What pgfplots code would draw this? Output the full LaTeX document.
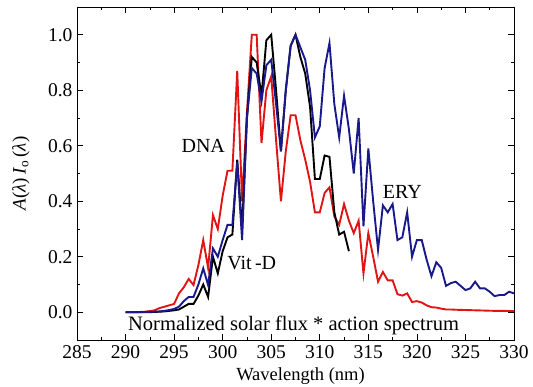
\documentclass[border=0pt]{standalone}
\usepackage{fontspec}
\setmainfont{Liberation Serif}
\usepackage{pgfplots}
\pgfplotsset{compat=1.18}
\definecolor{dnared}{RGB}{225,20,20}
\definecolor{erybl}{RGB}{25,25,140}
\begin{document}
\begin{tikzpicture}
\begin{axis}[
  scale only axis, width=437pt, height=333pt,
  xmin=285, xmax=330, ymin=-0.1, ymax=1.1,
  xtick={285,290,...,330}, minor x tick num=1,
  ytick={0,0.2,...,1.0}, minor y tick num=1,
  tick align=inside, major tick length=6pt, minor tick length=3pt,
  every tick/.style={black, line width=0.6pt},
  axis line style={line width=0.9pt},
  /pgf/number format/assume math mode=true,
  yticklabel style={/pgf/number format/fixed, /pgf/number format/precision=1, /pgf/number format/fixed zerofill, xshift=-1pt},
  xticklabel style={/pgf/number format/1000 sep={}, yshift=-2pt},
  ticklabel style={font=\fontsize{19.5}{20}\selectfont},
  xlabel={Wavelength (nm)},
  xlabel style={font=\fontsize{18.5}{18.5}\selectfont, at={(axis description cs:0.5,0)}, anchor=center, yshift=-36pt, xshift=5pt},
  clip=true,
]
\addplot[dnared, line width=1.9pt] coordinates {
(290,0) (290.5,0) (291,0) (291.5,0.001) (292,0.002) (292.5,0.004) (293,0.007) (293.5,0.015) (294,0.02) (294.5,0.025) (295,0.03) (295.5,0.068) (296,0.09) (296.5,0.12) (297,0.098) (297.5,0.17) (298,0.26) (298.5,0.16) (299,0.35) (299.5,0.30) (300,0.42) (300.5,0.51) (301,0.51) (301.5,0.87) (302,0.40) (302.5,0.72) (303,1.0) (303.5,1.0) (304,0.61) (304.5,0.80) (305,0.85) (305.5,0.62) (306,0.40) (306.5,0.58) (307,0.71) (307.5,0.71) (308,0.62) (308.5,0.55) (309,0.47) (309.5,0.36) (310,0.36) (310.5,0.43) (311,0.45) (311.5,0.345) (312,0.315) (312.5,0.39) (313,0.33) (313.5,0.285) (314,0.33) (314.5,0.14) (315,0.285) (315.5,0.20) (316,0.11) (316.5,0.145) (317,0.115) (317.5,0.115) (318,0.065) (318.5,0.06) (319,0.068) (319.5,0.037) (320,0.04) (320.5,0.035) (321,0.025) (321.5,0.018) (322,0.017) (322.5,0.013) (323,0.01) (323.5,0.01) (324,0.009) (325,0.008) (326,0.007) (327,0.006) (328,0.005) (329,0.005) (330,0.004)
};
\addplot[black, line width=1.9pt] coordinates {
(290,0) (291,0) (292,0) (293,0.001) (294,0.003) (294.5,0.005) (295,0.007) (295.5,0.01) (296,0.02) (296.5,0.03) (297,0.03) (297.5,0.06) (298,0.10) (298.5,0.055) (299,0.20) (299.5,0.14) (300,0.22) (300.5,0.27) (301,0.28) (301.5,0.55) (302,0.30) (302.5,0.70) (303,0.92) (303.5,0.90) (304,0.78) (304.5,0.98) (305,1.0) (305.5,0.80) (306,0.58) (306.5,0.80) (307,0.96) (307.5,1.0) (308,0.92) (308.5,0.86) (309,0.74) (309.5,0.48) (310,0.48) (310.5,0.565) (311,0.56) (311.5,0.36) (312,0.28) (312.5,0.29) (313,0.22)
};
\addplot[erybl, line width=1.9pt] coordinates {
(290,0) (291,0) (292,0.001) (293,0.002) (293.5,0.003) (294,0.005) (294.5,0.008) (295,0.012) (295.5,0.02) (296,0.04) (296.5,0.055) (297,0.055) (297.5,0.10) (298,0.158) (298.5,0.098) (299,0.23) (299.5,0.20) (300,0.26) (300.5,0.315) (301,0.315) (301.5,0.54) (302,0.26) (302.5,0.70) (303,0.88) (303.5,0.86) (304,0.76) (304.5,0.89) (305,0.91) (305.5,0.75) (306,0.58) (306.5,0.80) (307,0.96) (307.5,1.0) (308,0.955) (308.5,0.91) (309,0.80) (309.5,0.63) (310,0.67) (310.5,0.88) (311,0.97) (311.5,0.75) (312,0.63) (312.5,0.78) (313,0.66) (313.5,0.50) (314,0.70) (314.5,0.31) (315,0.59) (315.5,0.40) (316,0.225) (316.5,0.385) (317,0.36) (317.5,0.39) (318,0.26) (318.5,0.27) (319,0.36) (319.5,0.20) (320,0.26) (320.5,0.26) (321,0.19) (321.5,0.13) (322,0.18) (322.5,0.16) (323,0.095) (323.5,0.105) (324,0.11) (324.5,0.095) (325,0.08) (325.5,0.086) (326,0.11) (326.5,0.086) (327,0.086) (327.5,0.074) (328,0.058) (328.5,0.062) (329,0.062) (329.5,0.074) (330,0.068)
};
\node[font=\fontsize{20}{20}\selectfont] at (axis cs:298.0,0.60) {DNA};
\node[font=\fontsize{20}{20}\selectfont] at (axis cs:303.0,0.178) {Vit\,-D};
\node[font=\fontsize{20}{20}\selectfont] at (axis cs:318.5,0.435) {ERY};
\node[font=\fontsize{20.5}{20.5}\selectfont] at (axis cs:307.3,-0.047) {Normalized solar flux * action spectrum};
\end{axis}
\node[rotate=90, anchor=center, font=\fontsize{19}{19}\selectfont] at ([xshift=-56pt]current axis.west) {\textit{A}(\textit{λ})\,\textit{I}\textsubscript{o}\,(\textit{λ})};
\pgfresetboundingbox
\path (current axis.south west) ++(-77pt,-47pt) rectangle ++(533pt,387pt);
\end{tikzpicture}
\end{document}
